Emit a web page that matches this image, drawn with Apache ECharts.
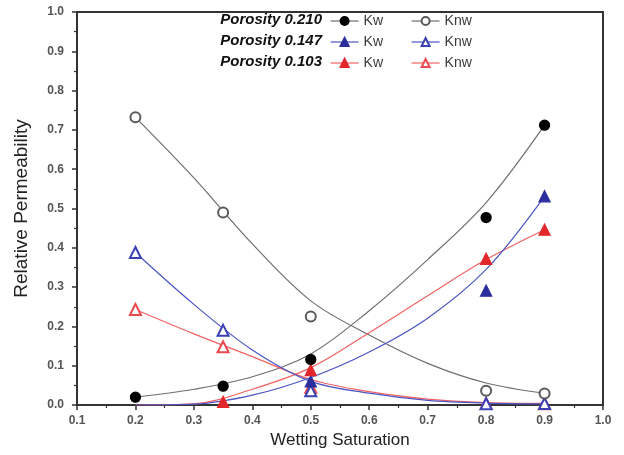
<!DOCTYPE html>
<html>
<head>
<meta charset="utf-8">
<script src="https://cdn.jsdelivr.net/npm/echarts@6/dist/echarts.min.js"></script>
<style>
  html, body { margin: 0; padding: 0; background: #fff; }
  #chart { width: 624px; height: 455px; }
</style>
</head>
<body>
<div id="chart"></div>
<script>
// Measured relative permeability (wetting saturation on x)
const satPoints = [0.2, 0.35, 0.5, 0.8, 0.9];
const kw210  = [0.020, 0.048, 0.116, 0.477, 0.712];
const knw210 = [0.732, 0.490, 0.225, 0.036, 0.029];
const kw147  = [null, null, 0.060, 0.291, 0.531];
const knw147 = [0.388, 0.190, 0.036, 0.003, 0.004];
const kw103  = [null, 0.008, 0.089, 0.372, 0.446];
const knw103 = [0.243, 0.148, 0.045, 0.004, 0.003];

// Fitted trend curves
const fitSat    = [0.2, 0.3, 0.4, 0.5, 0.6, 0.7, 0.8, 0.9];
const fitKw210  = [0.020, 0.040, 0.072, 0.130, 0.240, 0.370, 0.515, 0.712];
const fitKnw210 = [0.732, 0.578, 0.410, 0.265, 0.178, 0.106, 0.056, 0.030];
const fitKw147  = [0.000, 0.002, 0.025, 0.070, 0.135, 0.221, 0.345, 0.531];
const fitKnw147 = [0.388, 0.256, 0.140, 0.060, 0.030, 0.012, 0.005, 0.003];
const fitKw103  = [0.000, 0.003, 0.040, 0.095, 0.184, 0.278, 0.370, 0.446];
const fitKnw103 = [0.243, 0.181, 0.123, 0.065, 0.034, 0.015, 0.006, 0.004];

const porosityLabels = ['Porosity 0.210', 'Porosity 0.147', 'Porosity 0.103'];
const xRange = [0.1, 1.0];
const yRange = [0.0, 1.0];

const pair = (xs, ys) => xs.map((x, i) => [x, ys[i]]);

const GRAY = '#6f6f6f', BLUE = '#4b55c4', RED = '#f26262';
const SANS = 'Liberation Sans, Arial, sans-serif';

function fit(name, ys, color) {
  return {
    name: name, type: 'line', data: pair(fitSat, ys), smooth: 0.35,
    symbol: 'none', lineStyle: { color: color, width: 1.2 }, z: 2,
    silent: true
  };
}
function pts(name, ys, symbol, color, lineColor) {
  return {
    name: name, type: 'line', data: pair(satPoints, ys),
    symbol: symbol, symbolSize: symbol === 'circle' || symbol === 'emptyCircle' ? 10 : 11,
    itemStyle: { color: color, borderColor: color, borderWidth: 1.3 },
    lineStyle: { width: 0, opacity: 0, color: lineColor }, z: 4
  };
}

const series = [
  fit('f1', fitKw210, GRAY), fit('f2', fitKnw210, GRAY),
  fit('f5', fitKw103, RED),  fit('f6', fitKnw103, RED),
  fit('f3', fitKw147, BLUE), fit('f4', fitKnw147, BLUE),
  pts('Knw|103', knw103, 'emptyTriangle', '#ea4a4d', RED),
  pts('Knw|147', knw147, 'emptyTriangle', '#3b41b4', BLUE),
  pts('Knw|210', knw210, 'emptyCircle', '#5a5a5a', GRAY),
  pts('Kw|147', kw147, 'triangle', '#2b2e9c', BLUE),
  pts('Kw|103', kw103, 'triangle', '#e2282b', RED),
  pts('Kw|210', kw210, 'circle', '#000000', GRAY)
];

function legendCol(names, colors, left) {
  return {
    orient: 'vertical', left: left, top: 14, padding: 0,
    itemWidth: 28, itemHeight: 10, itemGap: 7, itemTextGap: 4, selectedMode: false,
    textStyle: { fontSize: 14, color: '#3a3a3a', fontFamily: SANS },
    formatter: n => n.split('|')[0],
    data: names.map((n, i) => ({ name: n, lineStyle: { color: colors[i], width: 1.2, opacity: 1 } }))
  };
}

const chart = echarts.init(document.getElementById('chart'), null, { renderer: 'canvas' });
chart.setOption({
  animation: false,
  backgroundColor: '#fff',
  grid: { left: 77, right: 21, top: 12, bottom: 50, show: true, borderColor: '#333', borderWidth: 2 },
  xAxis: {
    type: 'value', min: xRange[0], max: xRange[1], interval: 0.1,
    name: 'Wetting Saturation', nameLocation: 'middle', nameGap: 27,
    nameTextStyle: { fontSize: 17, color: '#222', fontFamily: SANS },
    axisLine: { lineStyle: { color: '#333', width: 2 } },
    axisTick: { length: 5, lineStyle: { color: '#333', width: 1.5 } },
    minorTick: { show: true, splitNumber: 2, length: 3, lineStyle: { color: '#333', width: 1.2 } },
    splitLine: { show: false },
    axisLabel: { fontSize: 12, fontWeight: 'bold', color: '#555', margin: 10, fontFamily: SANS,
                 formatter: v => v.toFixed(1) }
  },
  yAxis: {
    type: 'value', min: yRange[0], max: yRange[1], interval: 0.1,
    name: 'Relative Permeability', nameLocation: 'middle', nameGap: 46,
    nameTextStyle: { fontSize: 19, color: '#222', fontFamily: SANS },
    axisLine: { show: true, lineStyle: { color: '#333', width: 2 } },
    axisTick: { show: true, length: 5, lineStyle: { color: '#333', width: 1.5 } },
    minorTick: { show: true, splitNumber: 2, length: 3, lineStyle: { color: '#333', width: 1.2 } },
    splitLine: { show: false },
    axisLabel: { fontSize: 12, fontWeight: 'bold', color: '#555', margin: 13, fontFamily: SANS,
                 formatter: v => v.toFixed(1) }
  },
  legend: [
    legendCol(['Kw|210', 'Kw|147', 'Kw|103'], [GRAY, BLUE, RED], 330),
    legendCol(['Knw|210', 'Knw|147', 'Knw|103'], [GRAY, BLUE, RED], 411)
  ],
  graphic: porosityLabels.map((t, i) => ({
    type: 'text', x: 322, y: 20 + i * 21,
    style: { text: t, fontSize: 15, fontWeight: 'bold', fontStyle: 'italic', fill: '#111',
             fontFamily: SANS, textAlign: 'right', textVerticalAlign: 'middle' }
  })),
  series: series
});
</script>
</body>
</html>
